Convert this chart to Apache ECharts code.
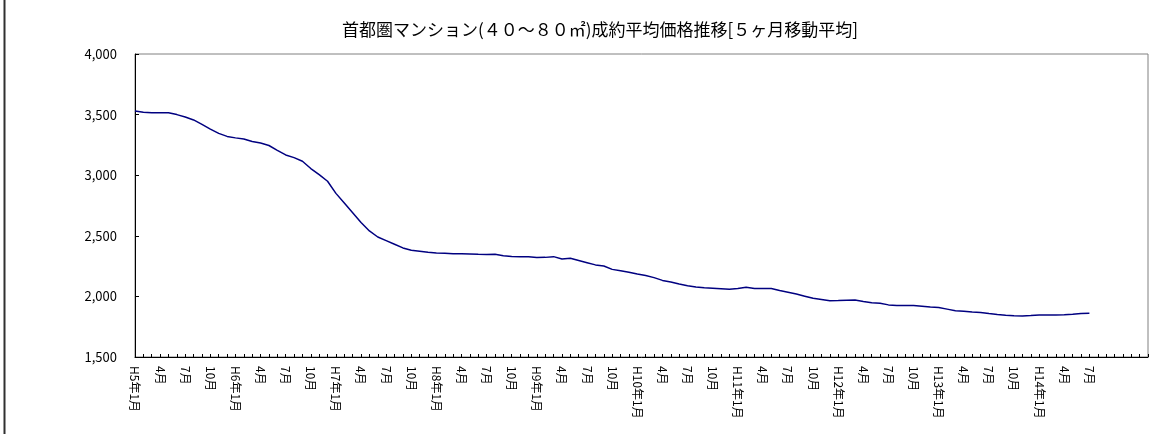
<!DOCTYPE html>
<html>
<head>
<meta charset="utf-8">
<script src="https://cdn.jsdelivr.net/npm/echarts@6/dist/echarts.min.js"></script>
<style>
  html, body { margin: 0; padding: 0; background: #fff; }
  #chart { width: 1165px; height: 434px; }
</style>
</head>
<body>
<div id="chart"></div>
<script>
// 首都圏マンション 成約平均価格 5ヶ月移動平均（万円）
var titleText = "首都圏マンション(４０～８０㎡)成約平均価格推移[５ヶ月移動平均]";

// 月次カテゴリ H5年1月 〜 H15年2月（軸の幅ぶん）
var startYear = 5;
var monthCount = 122;
var categories = [];
for (var k = 0; k < monthCount; k++) {
  var y = startYear + Math.floor(k / 12);
  var m = (k % 12) + 1;
  categories.push(m === 1 ? "H" + y + "年1月" : m + "月");
}

// H5年1月 〜 H14年7月
var priceAvg = [
  3530, 3520, 3515, 3515, 3516, 3500, 3480, 3456, 3420, 3380,
  3345, 3320, 3308, 3298, 3278, 3265, 3245, 3205, 3167, 3145,
  3115, 3055, 3005, 2950, 2850, 2770, 2690, 2610, 2540, 2490,
  2460, 2430, 2400, 2380, 2372, 2364, 2358, 2355, 2352, 2352,
  2350, 2347, 2345, 2347, 2335, 2330, 2328, 2328, 2320, 2322,
  2328, 2309, 2314, 2296, 2278, 2260, 2251, 2223, 2212, 2200,
  2184, 2172, 2155, 2132, 2118, 2102, 2088, 2078, 2072, 2068,
  2064, 2059, 2065, 2075, 2066, 2066, 2066, 2048, 2035, 2020,
  2002, 1984, 1975, 1965, 1966, 1968, 1970, 1958, 1948, 1943,
  1930, 1924, 1925, 1924, 1918, 1912, 1908, 1895, 1882, 1878,
  1872, 1867, 1858, 1850, 1844, 1840, 1838, 1842, 1847, 1847,
  1846, 1848, 1852, 1858, 1860
];

var yMin = 1500, yMax = 4000, yStep = 500;

var font = '"Noto Sans CJK JP", "Noto Sans", sans-serif';
var chart = echarts.init(document.getElementById('chart'));

var option = {
  animation: false,
  backgroundColor: '#fff',
  grid: {
    left: 135, right: 17, top: 54, bottom: 77,
    show: true, borderColor: '#808080', borderWidth: 1, backgroundColor: '#fff'
  },
  graphic: [
    {
      type: 'line',
      shape: { x1: 4.5, y1: 0, x2: 4.5, y2: 434 },
      style: { stroke: '#303030', lineWidth: 2 }
    },
    {
      type: 'text',
      x: 600, y: 21,
      style: {
        text: titleText,
        font: '17px ' + font,
        fill: '#000',
        textAlign: 'center'
      }
    }
  ],
  xAxis: {
    type: 'category',
    data: categories,
    boundaryGap: false,
    axisLine: { lineStyle: { color: '#000', width: 1 } },
    axisTick: { inside: true, length: 3, interval: 0, lineStyle: { color: '#000' } },
    axisLabel: {
      // 3ヶ月ごと、データのある期間（H14年7月）まで
      interval: function (idx) { return idx % 3 === 0 && idx < priceAvg.length; },
      rotate: -90,
      margin: 9,
      color: '#000',
      fontSize: 12,
      fontFamily: font
    },
    splitLine: { show: false }
  },
  yAxis: {
    type: 'value',
    min: yMin, max: yMax, interval: yStep,
    axisLine: { show: true, lineStyle: { color: '#000', width: 1 } },
    axisTick: { show: true, inside: true, length: 4, lineStyle: { color: '#000' } },
    axisLabel: {
      margin: 18,
      color: '#000',
      fontSize: 13,
      fontFamily: font,
      formatter: function (v) { return v.toLocaleString('en-US'); }
    },
    splitLine: { show: false }
  },
  series: [
    {
      type: 'line',
      data: priceAvg,
      symbol: 'none',
      lineStyle: { color: '#000080', width: 1.5 },
      z: 3
    }
  ]
};

chart.setOption(option);
</script>
</body>
</html>
